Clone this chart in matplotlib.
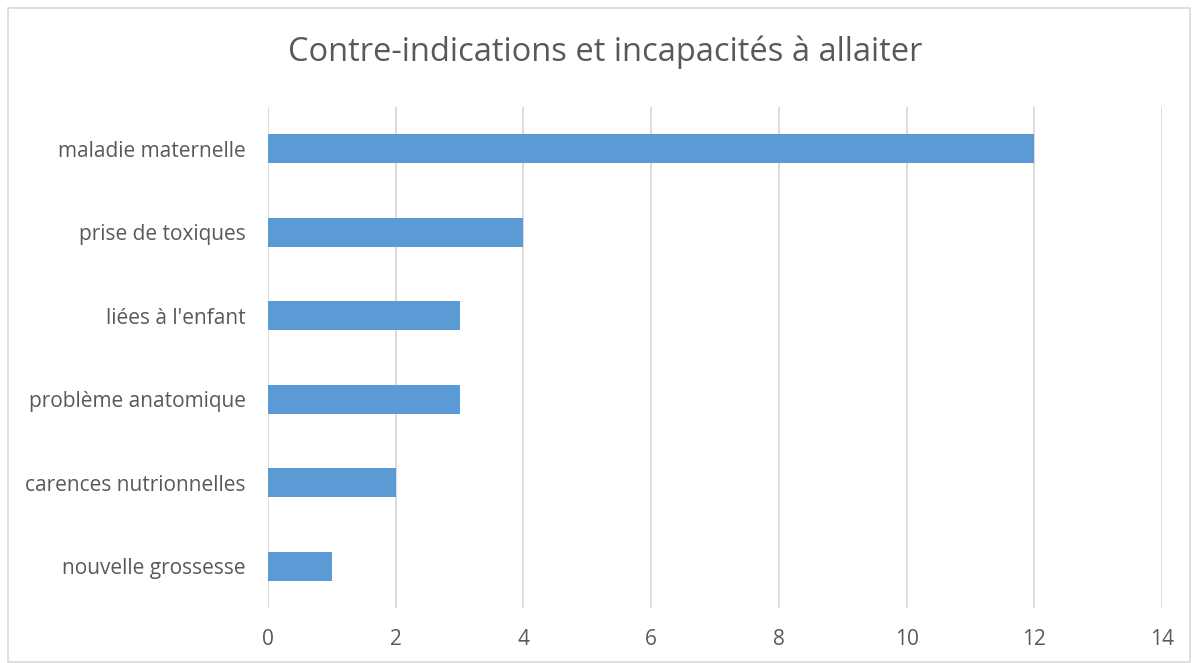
import matplotlib
matplotlib.use("Agg")
import matplotlib.pyplot as plt
from matplotlib.patches import Rectangle

# data (top to bottom as shown)
categories = ["maladie maternelle", "prise de toxiques", "liées à l'enfant",
              "problème anatomique", "carences nutrionnelles", "nouvelle grossesse"]
values = [12, 4, 3, 3, 2, 1]
xticks = [0, 2, 4, 6, 8, 10, 12, 14]

W, H = 1198, 663
fig = plt.figure(figsize=(W / 100, H / 100), dpi=100)
plt.rcParams['font.family'] = ['Open Sans', 'DejaVu Sans']
txt = "#595959"

ax = fig.add_axes([268 / W, 1 - 608 / H, (1162 - 268) / W, (608 - 107) / H])
ypos = list(range(len(categories)))[::-1]
ax.barh(ypos, values, height=0.353, color="#5B9BD5", zorder=3)
ax.set_xlim(0, 14)
ax.set_ylim(-0.5, len(categories) - 0.5)
ax.set_xticks(xticks)
ax.set_xticklabels([str(t) for t in xticks], fontsize=15, color=txt)
ax.set_yticks(ypos)
ax.set_yticklabels(categories, fontsize=15, color=txt)
ax.tick_params(axis="both", length=0)
ax.tick_params(axis="x", pad=15)
ax.tick_params(axis="y", pad=16)
ax.grid(axis="x", color="#D9D9D9", linewidth=1.3, zorder=0)
for s in ax.spines.values():
    s.set_visible(False)

fig.text(605 / W, 1 - 52 / H, "Contre-indications et incapacités à allaiter",
         ha="center", va="center", fontsize=23.5, color=txt)

fig.patches.append(Rectangle((8 / W, 1 / H), (1190 - 8) / W, (655 - 1) / H,
                             transform=fig.transFigure, fill=False,
                             edgecolor="#D9D9D9", linewidth=1.2))

fig.savefig("out.png", dpi=100)
